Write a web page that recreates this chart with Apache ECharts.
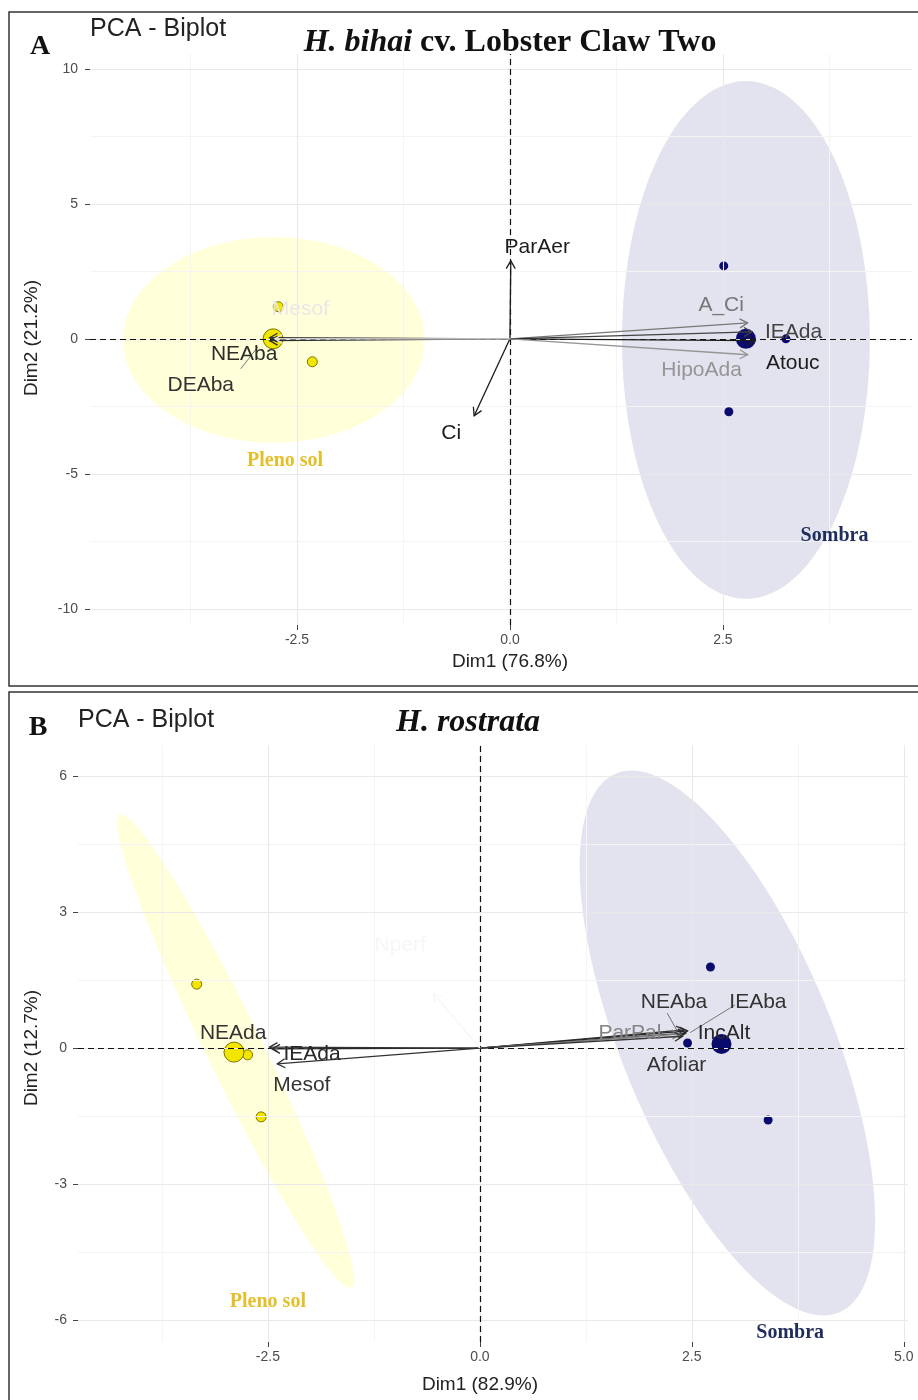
<!DOCTYPE html>
<html><head><meta charset="utf-8">
<script src="https://cdn.jsdelivr.net/npm/echarts@6/dist/echarts.min.js"></script>
<style>html,body{margin:0;padding:0;background:#fff}#c{width:918px;height:1400px}</style>
</head><body><div id="c"></div>
<script>
// ================= DATA =================
// ---- Panel A: H. bihai cv. Lobster Claw Two ----
const xTicksA = [-2.5, 0, 2.5];
const xTickLabelsA = ['-2.5', '0.0', '2.5'];
const yTicksA = [-10, -5, 0, 5, 10];
const yTickLabelsA = ['-10', '-5', '0', '5', '10'];
const xMinorA = [-3.75, -1.25, 1.25, 3.75];
const yMinorA = [-7.5, -2.5, 2.5, 7.5];
const plenoA = [[-2.72, 1.19], [-2.32, -0.85]];
const plenoCentA = [[-2.78, 0.0]];
const sombraA = [[2.51, 2.70], [2.57, -2.70], [3.24, 0.0]];
const sombraCentA = [[2.77, 0.0]];
// ellipse: centre x, centre y, semi-axis 1 (dx, dy), semi-axis 2 (dx, dy)
const ellipsePlenoA = [-2.77, -0.04, 1.77, 0, 0, 3.81];
const ellipseSombraA = [2.77, -0.04, 1.455, 0, 0, 9.59];
const varNamesA = ['ParAer', 'Ci', 'A_Ci', 'IEAda', 'Atouc', 'HipoAda', 'NEAba', 'DEAba', 'Mesof'];
const varTipA = [[0.01, 2.89], [-0.42, -2.85], [2.79, 0.59], [2.84, 0.26], [2.88, -0.07], [2.79, -0.59], [-2.82, -0.07], [-2.82, 0.04], [-2.76, 0.0]];
const varContribA = [0.95, 0.95, 0.55, 0.78, 0.95, 0.42, 0.88, 0.85, 0.06];
const varLabelA = [[0.32, 3.41], [-0.69, -3.48], [2.48, 1.26], [3.33, 0.26], [3.32, -0.89], [2.25, -1.15], [-3.12, -0.56], [-3.63, -1.70], [-2.46, 1.11]];
const leaderA = [[-3.16, -1.11, -2.96, -0.30]];
const groupNamesA = ['Pleno sol', 'Sombra'];
const groupLabelA = [[-2.64, -4.52], [3.81, -7.30]];
const xNameA = 'Dim1 (76.8%)';
const yNameA = 'Dim2 (21.2%)';

// ---- Panel B: H. rostrata ----
const xTicksB = [-2.5, 0, 2.5, 5];
const xTickLabelsB = ['-2.5', '0.0', '2.5', '5.0'];
const yTicksB = [-6, -3, 0, 3, 6];
const yTickLabelsB = ['-6', '-3', '0', '3', '6'];
const xMinorB = [-3.75, -1.25, 1.25, 3.75];
const yMinorB = [-4.5, -1.5, 1.5, 4.5];
const plenoB = [[-3.34, 1.41], [-2.58, -1.52], [-2.74, -0.15]];
const plenoCentB = [[-2.90, -0.09]];
const sombraB = [[2.72, 1.79], [3.40, -1.59], [2.45, 0.11]];
const sombraCentB = [[2.85, 0.09]];
const ellipsePlenoB = [-2.88, -0.07, 1.368, -5.22, 0.296, 0.272];
const ellipseSombraB = [2.92, 0.11, 1.315, -5.95, 1.144, 0.885];
const varNamesB = ['NEAba', 'IEAba', 'IncAlt', 'ParPal', 'Afoliar', 'IEAda', 'Mesof', 'NEAda', 'Nperf'];
const varTipB = [[2.41, 0.40], [2.43, 0.33], [2.45, 0.38], [2.36, 0.31], [2.39, 0.26], [-2.45, -0.02], [-2.39, -0.35], [-2.48, 0.02], [-0.55, 1.20]];
const varContribB = [0.85, 0.85, 0.9, 0.5, 0.85, 0.9, 0.85, 0.85, 0.0];
const varLabelB = [[2.29, 1.02], [3.28, 1.02], [2.88, 0.33], [1.77, 0.33], [2.32, -0.38], [-1.98, -0.13], [-2.10, -0.82], [-2.91, 0.33], [-0.94, 2.27]];
const leaderB = [[2.21, 0.77, 2.33, 0.37], [3.01, 0.95, 2.48, 0.34]];
const groupNamesB = ['Pleno sol', 'Sombra'];
const groupLabelB = [[-2.50, -5.61], [3.66, -6.29]];
const xNameB = 'Dim1 (82.9%)';
const yNameB = 'Dim2 (12.7%)';

// ================= STYLE / BUILD =================
const SANS = '"Liberation Sans", Arial, sans-serif';
const SERIF = '"Liberation Serif", "Times New Roman", serif';
const PLENO_FILL = 'rgba(255,255,0,0.15)';
const SOMBRA_FILL = 'rgba(26,26,128,0.12)';
const groupColors = ['#e3bf2a', '#1f2d5c'];

function grayOf(c) { const g = Math.round(246 - c * 230); return 'rgb(' + g + ',' + g + ',' + g + ')'; }

function xAxisCfg(gi, min, max, ticks, labels) {
  return {
    type: 'value', gridIndex: gi, min: min, max: max,
    axisLine: { show: true, onZero: false, lineStyle: { color: 'rgba(0,0,0,0)' } }, splitLine: { show: false },
    axisTick: { show: true, length: 5, customValues: ticks, lineStyle: { color: '#444', width: 1 } },
    axisLabel: { customValues: ticks, formatter: v => labels[ticks.indexOf(v)], color: '#4d4d4d', fontSize: 14, fontFamily: SANS, margin: 8 }
  };
}
function yAxisCfg(gi, min, max, ticks, labels, margin) {
  return {
    type: 'value', gridIndex: gi, min: min, max: max,
    axisLine: { show: true, onZero: false, lineStyle: { color: 'rgba(0,0,0,0)' } }, splitLine: { show: false },
    axisTick: { show: true, length: 5, customValues: ticks, lineStyle: { color: '#444', width: 1 } },
    axisLabel: { customValues: ticks, formatter: v => labels[ticks.indexOf(v)], color: '#4d4d4d', fontSize: 14, fontFamily: SANS, margin: margin }
  };
}

function ellipseRender(params, api) {
  const cx = api.value(0), cy = api.value(1), ux = api.value(2), uy = api.value(3), vx = api.value(4), vy = api.value(5);
  const pts = [];
  for (let k = 0; k < 120; k++) {
    const t = k / 120 * 2 * Math.PI;
    pts.push(api.coord([cx + Math.cos(t) * ux + Math.sin(t) * vx, cy + Math.cos(t) * uy + Math.sin(t) * vy]));
  }
  return { type: 'polygon', shape: { points: pts }, style: { fill: api.visual('color') } };
}

function arrowRender(params, api) {
  const o = api.coord([0, 0]);
  const tip = api.coord([api.value(0), api.value(1)]);
  const col = grayOf(api.value(2));
  const ang = Math.atan2(tip[1] - o[1], tip[0] - o[0]);
  const L = 9, a = Math.PI / 6;
  const h1 = [tip[0] - L * Math.cos(ang - a), tip[1] - L * Math.sin(ang - a)];
  const h2 = [tip[0] - L * Math.cos(ang + a), tip[1] - L * Math.sin(ang + a)];
  return {
    type: 'group', children: [
      { type: 'line', shape: { x1: o[0], y1: o[1], x2: tip[0], y2: tip[1] }, style: { stroke: col, lineWidth: 1.3 } },
      { type: 'polyline', shape: { points: [h1, tip, h2] }, style: { stroke: col, lineWidth: 1.3, fill: null } }
    ]
  };
}

function labelRenderer(names) {
  return function (params, api) {
    const p = api.coord([api.value(0), api.value(1)]);
    return { type: 'text', x: p[0], y: p[1], style: { text: names[params.dataIndex], fill: grayOf(api.value(2)), font: '21px ' + SANS, align: 'center', verticalAlign: 'middle' } };
  };
}
function groupLabelRenderer(names) {
  return function (params, api) {
    const p = api.coord([api.value(0), api.value(1)]);
    return { type: 'text', x: p[0], y: p[1], style: { text: names[params.dataIndex], fill: groupColors[params.dataIndex], font: 'bold 20px ' + SERIF, align: 'center', verticalAlign: 'middle' } };
  };
}
function leaderRender(params, api) {
  const a = api.coord([api.value(0), api.value(1)]);
  const b = api.coord([api.value(2), api.value(3)]);
  return { type: 'line', shape: { x1: a[0], y1: a[1], x2: b[0], y2: b[1] }, style: { stroke: '#666', lineWidth: 0.9 } };
}

function panelSeries(gi, d) {
  const ax = { xAxisIndex: gi, yAxisIndex: gi };
  const gridLines = [];
  d.xMinor.forEach(v => gridLines.push({ xAxis: v, lineStyle: { color: '#f4f4f4', width: 1, type: 'solid' } }));
  d.yMinor.forEach(v => gridLines.push({ yAxis: v, lineStyle: { color: '#f4f4f4', width: 1, type: 'solid' } }));
  d.xTicks.forEach(v => gridLines.push({ xAxis: v, lineStyle: { color: '#e9e9e9', width: 1.1, type: 'solid' } }));
  d.yTicks.forEach(v => gridLines.push({ yAxis: v, lineStyle: { color: '#e9e9e9', width: 1.1, type: 'solid' } }));
  return [
    Object.assign({ type: 'line', data: [], z: 1, silent: true,
      markLine: { silent: true, symbol: ['none', 'none'], label: { show: false }, animation: false, data: gridLines } }, ax),
    Object.assign({ type: 'custom', z: 2, silent: true, renderItem: ellipseRender, itemStyle: { color: PLENO_FILL }, data: [d.ellPleno] }, ax),
    Object.assign({ type: 'custom', z: 2, silent: true, renderItem: ellipseRender, itemStyle: { color: SOMBRA_FILL }, data: [d.ellSombra] }, ax),
    Object.assign({ type: 'line', data: [], z: 3, silent: true,
      markLine: { silent: true, symbol: ['none', 'none'], label: { show: false }, animation: false,
        data: [{ xAxis: 0 }, { yAxis: 0 }], lineStyle: { color: '#111', width: 1.2, type: [6, 4] } } }, ax),
    Object.assign({ type: 'scatter', z: 4, symbolSize: 10, itemStyle: { color: '#f2e500', borderColor: '#7f7400', borderWidth: 1, opacity: 1 }, data: d.pleno }, ax),
    Object.assign({ type: 'scatter', z: 4, symbolSize: 20, itemStyle: { color: '#f2e500', borderColor: '#7f7400', borderWidth: 1, opacity: 1 }, data: d.plenoCent }, ax),
    Object.assign({ type: 'scatter', z: 4, symbolSize: 9, itemStyle: { color: '#0b0b6e', opacity: 1 }, data: d.sombra }, ax),
    Object.assign({ type: 'scatter', z: 4, symbolSize: 20, itemStyle: { color: '#0b0b6e', opacity: 1 }, data: d.sombraCent }, ax),
    Object.assign({ type: 'custom', z: 5, silent: true, renderItem: arrowRender, data: d.tips.map((p, i) => [p[0], p[1], d.contrib[i]]) }, ax),
    Object.assign({ type: 'custom', z: 5, silent: true, renderItem: leaderRender, data: d.leaders }, ax),
    Object.assign({ type: 'custom', z: 6, silent: true, renderItem: labelRenderer(d.names), data: d.labels.map((p, i) => [p[0], p[1], d.contrib[i]]) }, ax),
    Object.assign({ type: 'custom', z: 6, silent: true, renderItem: groupLabelRenderer(d.groupNames), data: d.groupLabels }, ax)
  ];
}

const dA = { xMinor: xMinorA, yMinor: yMinorA, xTicks: xTicksA, yTicks: yTicksA, ellPleno: ellipsePlenoA, ellSombra: ellipseSombraA,
  pleno: plenoA, plenoCent: plenoCentA, sombra: sombraA, sombraCent: sombraCentA, tips: varTipA, contrib: varContribA,
  names: varNamesA, labels: varLabelA, leaders: leaderA, groupNames: groupNamesA, groupLabels: groupLabelA };
const dB = { xMinor: xMinorB, yMinor: yMinorB, xTicks: xTicksB, yTicks: yTicksB, ellPleno: ellipsePlenoB, ellSombra: ellipseSombraB,
  pleno: plenoB, plenoCent: plenoCentB, sombra: sombraB, sombraCent: sombraCentB, tips: varTipB, contrib: varContribB,
  names: varNamesB, labels: varLabelB, leaders: leaderB, groupNames: groupNamesB, groupLabels: groupLabelB };

const chart = echarts.init(document.getElementById('c'), null, { renderer: 'canvas' });
chart.setOption({
  animation: false,
  backgroundColor: '#ffffff',
  grid: [
    { left: 90, top: 54, width: 822, height: 571 },
    { left: 78, top: 745, width: 830, height: 597 }
  ],
  xAxis: [xAxisCfg(0, -4.93, 4.72, xTicksA, xTickLabelsA), xAxisCfg(1, -4.74, 5.05, xTicksB, xTickLabelsB)],
  yAxis: [yAxisCfg(0, -10.6, 10.55, yTicksA, yTickLabelsA, 12), yAxisCfg(1, -6.49, 6.69, yTicksB, yTickLabelsB, 11)],
  series: panelSeries(0, dA).concat(panelSeries(1, dB)),
  graphic: [
    { type: 'rect', silent: true, z: 10, shape: { x: 9, y: 12, width: 930, height: 674 }, style: { fill: null, stroke: '#333', lineWidth: 1.5 } },
    { type: 'rect', silent: true, z: 10, shape: { x: 9, y: 692, width: 930, height: 720 }, style: { fill: null, stroke: '#333', lineWidth: 1.5 } },
    { type: 'text', silent: true, z: 10, x: 40, y: 47, style: { text: 'A', font: 'bold 28px ' + SERIF, fill: '#111', align: 'center', verticalAlign: 'middle' } },
    { type: 'text', silent: true, z: 10, x: 90, y: 29, style: { text: 'PCA - Biplot', font: '25px ' + SANS, fill: '#222', align: 'left', verticalAlign: 'middle' } },
    { type: 'text', silent: true, z: 10, x: 510, y: 43, style: { text: '{i|H. bihai }{n|cv. Lobster Claw Two}', align: 'center', verticalAlign: 'middle',
      rich: { i: { font: 'italic bold 32px ' + SERIF, fill: '#111' }, n: { font: 'bold 32px ' + SERIF, fill: '#111' } } } },
    { type: 'text', silent: true, z: 10, x: 38, y: 728, style: { text: 'B', font: 'bold 28px ' + SERIF, fill: '#111', align: 'center', verticalAlign: 'middle' } },
    { type: 'text', silent: true, z: 10, x: 78, y: 720, style: { text: 'PCA - Biplot', font: '25px ' + SANS, fill: '#222', align: 'left', verticalAlign: 'middle' } },
    { type: 'text', silent: true, z: 10, x: 468, y: 723, style: { text: 'H. rostrata', font: 'italic bold 32px ' + SERIF, fill: '#111', align: 'center', verticalAlign: 'middle' } },
    { type: 'text', silent: true, z: 10, x: 510, y: 662, style: { text: xNameA, font: '19px ' + SANS, fill: '#222', align: 'center', verticalAlign: 'middle' } },
    { type: 'text', silent: true, z: 10, x: 32, y: 338, rotation: Math.PI / 2, style: { text: yNameA, font: '19px ' + SANS, fill: '#222', align: 'center', verticalAlign: 'middle' } },
    { type: 'text', silent: true, z: 10, x: 480, y: 1385, style: { text: xNameB, font: '19px ' + SANS, fill: '#222', align: 'center', verticalAlign: 'middle' } },
    { type: 'text', silent: true, z: 10, x: 32, y: 1048, rotation: Math.PI / 2, style: { text: yNameB, font: '19px ' + SANS, fill: '#222', align: 'center', verticalAlign: 'middle' } }
  ]
});
</script>
</body></html>
